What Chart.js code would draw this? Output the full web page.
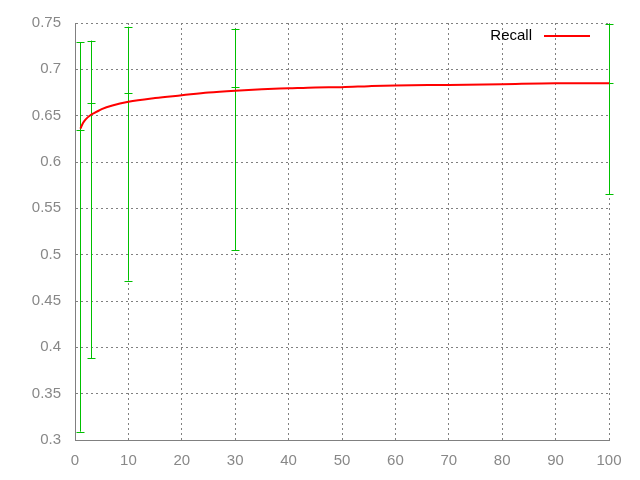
<!DOCTYPE html>
<html>
<head>
<meta charset="utf-8">
<script src="https://cdn.jsdelivr.net/npm/chart.js@4/dist/chart.umd.min.js"></script>
<style>
  html, body { margin: 0; padding: 0; background: #fff; }
  #recall-chart { display: block; }
</style>
</head>
<body>
<canvas id="recall-chart" width="640" height="480"></canvas>
<script>
// recall curve
let recallX = [1, 1.5, 2, 3, 4, 5, 7, 10, 15, 20, 25, 30, 35, 40, 45, 50, 55, 60, 70, 80, 90, 100];
let recallY = [0.636, 0.642, 0.646, 0.651, 0.654, 0.657, 0.661, 0.665, 0.669, 0.672, 0.675, 0.677, 0.6785, 0.6795, 0.6805, 0.6808, 0.6818, 0.6826, 0.6832, 0.684, 0.685, 0.685];

// error bars
let errX = [1, 3, 10, 30, 100];
let errMid = [0.635, 0.664, 0.674, 0.681, 0.685];
let errLow = [0.309, 0.388, 0.472, 0.505, 0.565];
let errHigh = [0.729, 0.731, 0.746, 0.744, 0.749];

let legendLabel = 'Recall';

const gridColor = '#808080';
const labelColor = '#888888';
const fontFamily = '"Liberation Sans", Arial, sans-serif';

const errorBarPlugin = {
  id: 'errorBars',
  beforeDatasetsDraw: function(chart) {
    const ctx = chart.ctx;
    const xs = chart.scales.x;
    const ys = chart.scales.y;
    ctx.save();
    ctx.strokeStyle = '#00c000';
    ctx.lineWidth = 1;
    ctx.lineCap = 'butt';
    ctx.setLineDash([]);
    for (var i = 0; i < errX.length; i++) {
      const px = Math.round(xs.getPixelForValue(errX[i])) + 0.5;
      const top = ys.getPixelForValue(errHigh[i]);
      const bot = ys.getPixelForValue(errLow[i]);
      const mid = ys.getPixelForValue(errMid[i]);
      ctx.beginPath();
      ctx.moveTo(px, top);
      ctx.lineTo(px, bot);
      [top, mid, bot].forEach(function(py) {
        py = Math.round(py) + 0.5;
        ctx.moveTo(px - 4, py);
        ctx.lineTo(px + 4, py);
      });
      ctx.stroke();
    }
    ctx.restore();
  }
};

const keyPlugin = {
  id: 'gnuKey',
  afterDraw: function(chart) {
    const ctx = chart.ctx;
    const area = chart.chartArea;
    const y = area.top + 13;
    ctx.save();
    ctx.font = '15px ' + fontFamily;
    ctx.fillStyle = '#000';
    ctx.textAlign = 'right';
    ctx.textBaseline = 'middle';
    ctx.fillText(legendLabel, area.right - 77, y);
    ctx.strokeStyle = '#ff0000';
    ctx.lineWidth = 2;
    ctx.beginPath();
    ctx.moveTo(area.right - 65, y);
    ctx.lineTo(area.right - 19, y);
    ctx.stroke();
    ctx.restore();
  }
};

const recallData = recallX.map(function(x, i) { return { x: x, y: recallY[i] }; });

const ctx = document.getElementById('recall-chart').getContext('2d');
const recallChart = new Chart(ctx, {
  type: 'line',
  data: {
    datasets: [{
      label: legendLabel,
      data: recallData,
      borderColor: '#ff0000',
      backgroundColor: '#ff0000',
      borderWidth: 2,
      pointRadius: 0,
      cubicInterpolationMode: 'monotone',
      fill: false
    }]
  },
  options: {
    responsive: false,
    animation: false,
    layout: { padding: { top: 20, right: 31, left: 0, bottom: 0 } },
    plugins: {
      legend: { display: false },
      tooltip: { enabled: false }
    },
    scales: {
      x: {
        type: 'linear',
        min: 0,
        max: 100,
        ticks: {
          stepSize: 10,
          color: labelColor,
          font: { family: fontFamily, size: 15 },
          padding: 12,
          maxRotation: 0,
          autoSkip: false
        },
        grid: {
          color: gridColor,
          drawTicks: false
        },
        border: { color: gridColor, width: 1, dash: [2, 3] },
        afterFit: function(scale) { scale.height = 40; }
      },
      y: {
        min: 0.3,
        max: 0.75,
        ticks: {
          stepSize: 0.05,
          color: labelColor,
          font: { family: fontFamily, size: 15 },
          padding: 14,
          autoSkip: false,
          callback: function(v) { return parseFloat(v.toFixed(2)).toString(); }
        },
        grid: {
          color: gridColor,
          drawTicks: false
        },
        border: { color: gridColor, width: 1, dash: [2, 3] },
        afterFit: function(scale) { scale.width = 75; }
      }
    }
  },
  plugins: [errorBarPlugin, keyPlugin]
});
</script>
</body>
</html>
